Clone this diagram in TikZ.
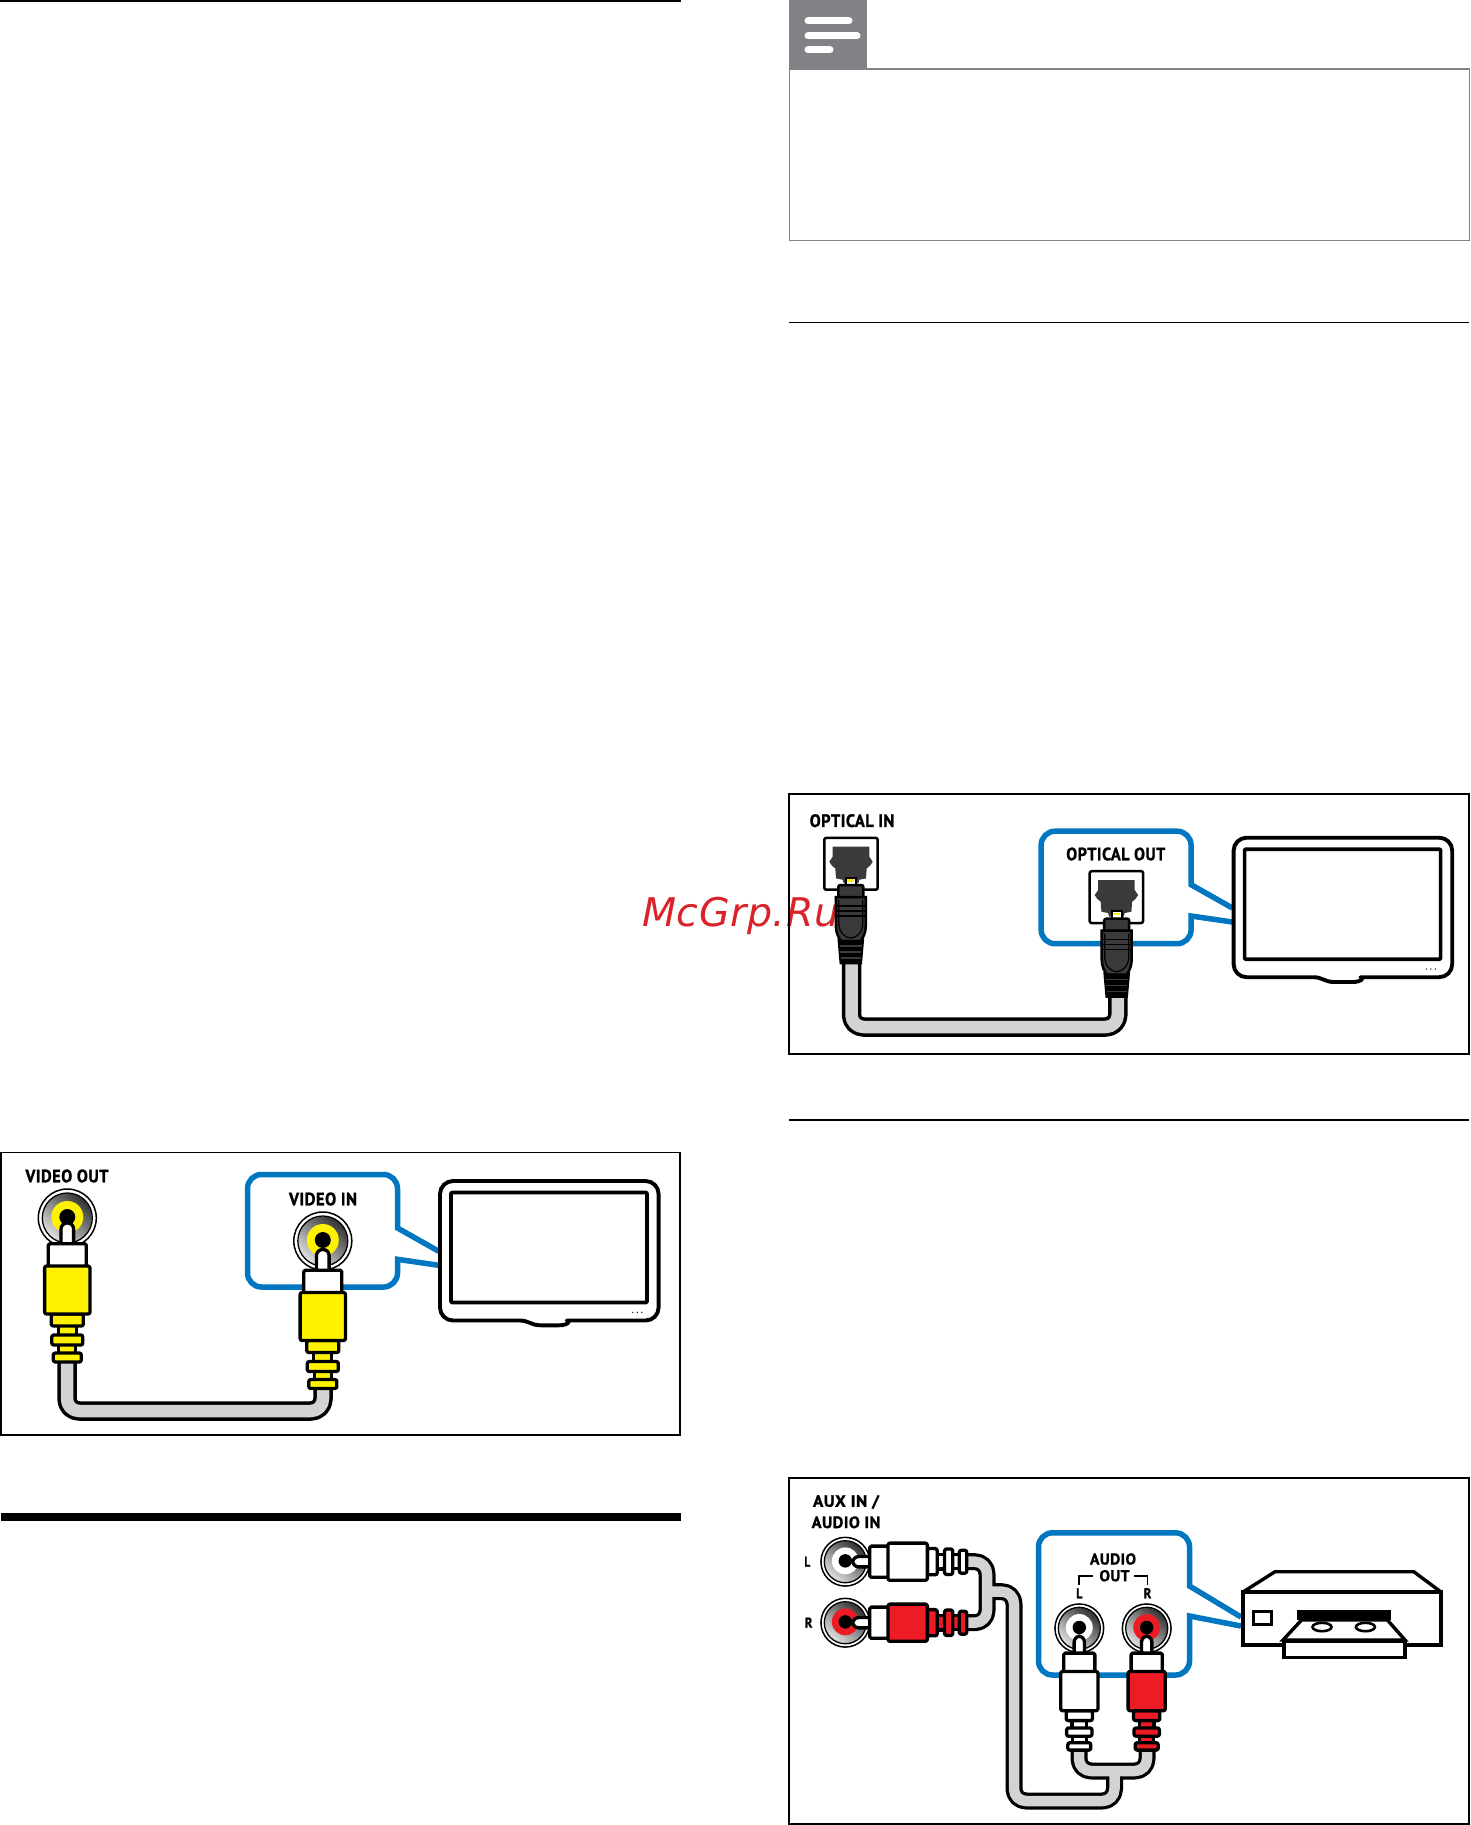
\documentclass[tikz,border=0pt]{standalone}
\usepackage{fontspec}
\usepackage{graphicx}
\setmainfont{PT Sans}[BoldFeatures={FakeBold=1.3,LetterSpace=3}]
\newfontfamily\wmfont{DejaVu Sans}[LetterSpace=1.5]
\definecolor{cyel}{HTML}{FFF200}
\definecolor{cred}{HTML}{ED1C24}
\definecolor{cgrey}{HTML}{D1D3D4}
\definecolor{cblue}{HTML}{0077C0}
\definecolor{cnote}{HTML}{808285}
\definecolor{cdark}{HTML}{3A3A3C}
\definecolor{cwm}{HTML}{D9232A}
\newcommand{\lab}[3]{\resizebox{#1pt}{#2pt}{\rule{0pt}{#2pt}\smash{\fontsize{\fpeval{#2/0.7}}{\fpeval{#2/0.7}}\selectfont\bfseries #3}}}
\tikzset{
  panelframe/.style={draw=black,line width=1.15,fill=white},
  lbl/.style={inner sep=0,outer sep=0,anchor=center,text=black},
  blk/.style={draw=black,line width=3.3,line join=round},
  pics/plugrca/.style={code={
    \filldraw[blk,fill=white,rounded corners=6] (-6.3,-19) rectangle (6.3,6);
    \filldraw[blk,fill=white,rounded corners=1.5] (-19,1.7) rectangle (19,27);
    \filldraw[blk,fill=#1] (-9,82) rectangle (9,94);
    \filldraw[blk,fill=#1] (-8.5,102) rectangle (8.5,112);
    \filldraw[blk,fill=#1,rounded corners=2] (-16,72) rectangle (16,84);
    \filldraw[blk,fill=#1,rounded corners=2] (-15.5,93) rectangle (15.5,103);
    \filldraw[blk,fill=#1,rounded corners=2] (-14,111) rectangle (14,120);
    \filldraw[blk,fill=#1,rounded corners=2] (-22.7,24) rectangle (22.7,72);
  }},
  pics/jackrca/.style={code={
    \filldraw[draw=black,line width=1.5,fill=white] (0,0) circle[radius=29];
    \shade[top color=black!80,bottom color=black!12,shading angle=-40] (0,0) circle[radius=24.5];
    \draw[black,line width=1.3] (0,0) circle[radius=25];
    \fill[#1] (0,-1) circle[radius=16];
    \fill[black] (0,-1) circle[radius=8];
  }},
  pics/tvset/.style={code={
    \filldraw[blk,line width=3.9,fill=white,rounded corners=13] (81,141.2) -- (1.2,141.2) -- (1.2,1.7) -- (219.8,1.7) -- (219.8,141.2) -- (141,141.2) [sharp corners] .. controls (132,141.2) and (130,146) .. (120,146) -- (102,146) .. controls (92,146) and (90,141.2) .. (81,141.2) -- cycle;
    \draw[blk,line width=3.7,rounded corners=1] (12.2,13.2) rectangle (208.2,123.2);
    \fill[black] (194,133) circle[radius=.7] (198.5,133) circle[radius=.7] (203,133) circle[radius=.7];
  }},
  pics/calloutblue/.style={code={
    \draw[cblue,line width=5.5,line join=miter] (0,72) -- (-41.3,48.7) [rounded corners=14] -- (-41.3,-4.8) -- (-191.3,-4.8) -- (-191.3,107.7) -- (-41.3,107.7) [sharp corners] -- (-41.3,80) -- (0,86);
  }},
  pics/portopt/.style={code={
    \filldraw[draw=black,line width=2.5,fill=white,rounded corners=2] (-26.7,1.2) rectangle (26.7,53);
    \fill[cdark] (-18.3,10) -- (18.3,10) -- (18.3,20) -- (21.7,25) -- (19,29) -- (15.7,31.7) -- (15,41.7) -- (8.3,43) -- (7.3,46.7) -- (-7.3,46.7) -- (-8.3,43) -- (-15,41.7) -- (-15.7,31.7) -- (-19,29) -- (-21.7,25) -- (-18.3,20) -- cycle;
  }},
  pics/plugopt/.style={code={
    \filldraw[draw=black,line width=2,fill=white] (-5,-.5) rectangle (5,9);
    \fill[cyel] (-3.5,1) rectangle (3.5,3.5);
    \filldraw[draw=black,line width=2.5,fill=black] (-12,62) -- (12,62) -- (10,85) -- (-10,85) -- cycle;
    \draw[cdark,line width=1.2] (-11,68) -- (11,68) (-10.5,74) -- (10.5,74) (-10,80) -- (10,80);
    \filldraw[draw=black,line width=2.5,fill=cdark,rounded corners=2] (-12.5,7) rectangle (12.5,22);
    \filldraw[draw=black,line width=2.5,fill=cdark] (-15,19) -- (15,19) -- (15,48) .. controls (15,55) and (12,60) .. (10,63) -- (-10,63) .. controls (-12,60) and (-15,55) .. (-15,48) -- cycle;
    \draw[black,line width=1.2] (-15,28) -- (15,28) (-15,33) -- (15,33) (-15,38) -- (15,38);
    \draw[black,line width=1.2] (-12,22) -- (-12,45) .. controls (-12,54) and (-6,60) .. (0,60) .. controls (6,60) and (12,54) .. (12,45) -- (12,22);
  }},
  cablek/.style={draw=black,line width=#1,line join=round,rounded corners=12},
  cableg/.style={draw=cgrey,line width=#1,line join=round,rounded corners=12},
}
\begin{document}
\begin{tikzpicture}[x=1pt,y=-1pt]
\useasboundingbox (0,0) rectangle (1470,1825);
\fill[white] (0,0) rectangle (1470,1825);

% rules
\fill[black] (0,0.2) rectangle (681,2);
\fill[black] (1,1513) rectangle (681,1521);
\fill[black] (789,321.5) rectangle (1469,323.2);
\fill[black] (789,1119.3) rectangle (1469,1121);

% note
\draw[cnote,line width=1.3] (789.7,69) rectangle (1469.3,240.5);
\fill[cnote] (789,0) rectangle (867,69.5);
\draw[white,line width=7,line cap=round] (808,21) -- (849,21) (808,36) -- (857,36) (808,50) -- (830,50);

% watermark
\node[inner sep=0,anchor=base west,text=cwm] (wm) at (642,926.7) {\wmfont\itshape\fontsize{39.5}{40}\selectfont McGrp.Ru};

% ---------- panel 1
\draw[panelframe,fill=none] (1,1152.5) rectangle (680,1435);
\pic at (438.8,1179.3) {calloutblue};
\pic at (438.8,1179.3) {tvset};
\node[lbl] (t1) at (67,1176) {\lab{83}{12.5}{VIDEO OUT}};
\node[lbl] (t2) at (323,1199) {\lab{68}{12.5}{VIDEO IN}};
\pic at (67.3,1218) {jackrca=cyel};
\pic at (322.8,1241) {jackrca=cyel};
\draw[cablek=19.5] (67,1360) -- (67,1411) -- (323,1411) -- (323,1386);
\draw[cableg=12.5] (67,1360) -- (67,1411) -- (323,1411) -- (323,1386);
\pic at (67.3,1242) {plugrca=cyel};
\pic at (322.8,1268.5) {plugrca=cyel};

% ---------- panel 2
\draw[panelframe,fill=none] (789,794) rectangle (1469,1054);
\pic at (1232.4,836) {calloutblue};
\pic at (1232.4,836) {tvset};
\node[lbl] (t3) at (852,820.7) {\lab{84.5}{12.5}{OPTICAL IN}};
\node[lbl] (t4) at (1115.8,854) {\lab{99}{12.5}{OPTICAL OUT}};
\pic at (851,836.7) {portopt};
\pic at (1116.4,870) {portopt};
\draw[cablek=19.5] (851.5,958) -- (851.5,1027) -- (1117.8,1027) -- (1117.8,992);
\draw[cableg=12.5] (851.5,958) -- (851.5,1027) -- (1117.8,1027) -- (1117.8,992);
\pic at (850.8,878) {plugopt};
\pic at (1116.7,911.7) {plugopt};

% ---------- panel 3
\draw[panelframe,fill=none] (789,1478) rectangle (1469,1824);
\draw[cblue,line width=5.5,line join=miter] (1241,1617) -- (1189.5,1586) [rounded corners=14] -- (1189.5,1532.8) -- (1038.5,1532.8) -- (1038.5,1675) -- (1189.5,1675) [sharp corners] -- (1189.5,1616) -- (1241,1626);
% recorder
\begin{scope}[line width=3.4,line join=miter]
\draw[black] (1243,1592) -- (1275,1571.7) -- (1413.8,1571.7) -- (1441,1592);
\draw[black] (1243,1592) rectangle (1441,1645);
\draw[black,line width=3] (1253,1611.5) rectangle (1271,1624);
\fill[black] (1297,1610) rectangle (1391,1620);
\filldraw[draw=black,fill=white] (1283,1640) -- (1301.5,1620) -- (1387.4,1620) -- (1405,1640) -- cycle;
\filldraw[draw=black,fill=white] (1284,1641) rectangle (1405,1657.5);
\draw[black,line width=2.6] (1322,1627) ellipse[x radius=9.5,y radius=4.2];
\draw[black,line width=2.6] (1365.4,1627) ellipse[x radius=9.5,y radius=4.2];
\end{scope}
% labels
\node[lbl] (t5) at (846,1501) {\lab{66}{11.5}{AUX IN /}};
\node[lbl] (t6) at (846,1522.3) {\lab{68.6}{11.5}{AUDIO IN}};
\node[lbl] (t7) at (807.3,1561.7) {\lab{5.7}{10}{L}};
\node[lbl] (t8) at (808.6,1622.7) {\lab{7.7}{10}{R}};
\node[lbl] (t9) at (1113,1559) {\lab{46}{11}{AUDIO}};
\node[lbl] (t10) at (1114.5,1575.7) {\lab{30}{11}{OUT}};
\node[lbl] (t11) at (1079.3,1593.3) {\lab{6}{10}{L}};
\node[lbl] (t12) at (1147.5,1593.3) {\lab{7.7}{10}{R}};
\draw[black,line width=1.8] (1079.3,1585) -- (1079.3,1576) -- (1093.4,1576) (1134.3,1576) -- (1147.5,1576) -- (1147.5,1585);
% jacks
\pic[scale=.84] at (845.3,1561.7) {jackrca=white};
\pic[scale=.84] at (845.3,1622.7) {jackrca=cred};
\pic[scale=.84] at (1079.3,1628.3) {jackrca=white};
\pic[scale=.84] at (1146.7,1628.3) {jackrca=cred};
% cable
\draw[cablek=17] (960,1561.7) -- (987,1561.7) -- (987,1622.7) -- (960,1622.7) (987,1591.7) -- (1014,1591.7) -- (1014,1801) -- (1114.5,1801) -- (1114.5,1771) (1079,1748) -- (1079,1771) -- (1147,1771) -- (1147,1748);
\draw[cableg=10.5] (960,1561.7) -- (987,1561.7) -- (987,1622.7) -- (960,1622.7) (987,1591.7) -- (1014,1591.7) -- (1014,1801) -- (1114.5,1801) -- (1114.5,1771) (1079,1748) -- (1079,1771) -- (1147,1771) -- (1147,1748);
% plugs
\pic[scale=.82,rotate=90] at (868.3,1561.7) {plugrca=white};
\pic[scale=.82,rotate=90] at (868.3,1622.7) {plugrca=cred};
\pic[scale=.82] at (1079.3,1651.7) {plugrca=white};
\pic[scale=.82] at (1146.7,1651.7) {plugrca=cred};
\end{tikzpicture}
\end{document}
